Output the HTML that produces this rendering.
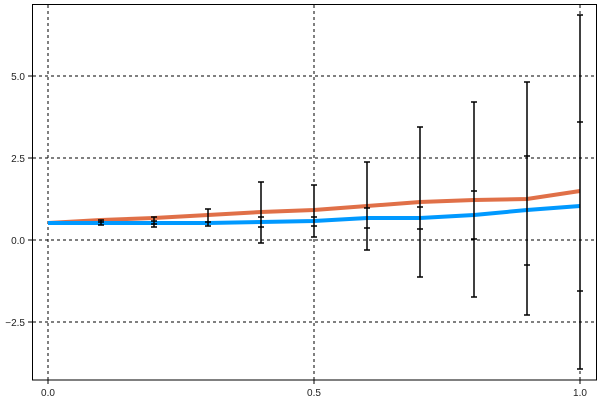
<!DOCTYPE html>
<html><head><style>html,body{margin:0;background:#fff;overflow:hidden;width:600px;height:400px}svg{display:block}text{font-family:"Liberation Sans",sans-serif;font-size:10px;fill:#222}</style></head><body>
<svg width="600" height="400">
<rect x="32.5" y="4.5" width="564" height="375.5" fill="none" stroke="#000"/>
<g stroke="#000" stroke-dasharray="3,3" stroke-width="1">
<line x1="48" y1="5" x2="48" y2="380"/><line x1="314" y1="5" x2="314" y2="380"/><line x1="580" y1="5" x2="580" y2="380"/>
<line x1="33" y1="76" x2="596" y2="76"/><line x1="33" y1="158" x2="596" y2="158"/><line x1="33" y1="240" x2="596" y2="240"/><line x1="33" y1="322" x2="596" y2="322"/>
</g>
<g stroke="#000"><line x1="48" y1="380" x2="48" y2="384"/><line x1="314" y1="380" x2="314" y2="384"/><line x1="580" y1="380" x2="580" y2="384"/>
<line x1="28" y1="76" x2="32" y2="76"/><line x1="28" y1="158" x2="32" y2="158"/><line x1="28" y1="240" x2="32" y2="240"/><line x1="28" y1="322" x2="32" y2="322"/></g>
<text x="48" y="396" text-anchor="middle">0.0</text><text x="314" y="396" text-anchor="middle">0.5</text><text x="580" y="396" text-anchor="middle">1.0</text>
<text x="25" y="80" text-anchor="end">5.0</text><text x="25" y="162" text-anchor="end">2.5</text><text x="25" y="244" text-anchor="end">0.0</text><text x="25" y="326" text-anchor="end">−2.5</text>
<polyline fill="none" stroke="#e07048" stroke-width="4" points="48,223 101,220 154,218 208,215 261,212 314,210 367,206 420,202 474,200 527,199 580,191"/>
<polyline fill="none" stroke="#0099ff" stroke-width="4" points="48,223 101,223 154,223 208,223 261,222 314,221 367,218 420,218 474,215 527,210 580,206"/>
<g stroke="#000" stroke-width="1.5">
<path d="M101,220V225M98,220H104M98,225H104M98,222H104"/>
<path d="M154,217V227M151,217H157M151,227H157M151,221H157M151,224H157"/>
<path d="M208,209V226M205,209H211M205,226H211M205,222H211"/>
<path d="M261,182V243M258,182H264M258,243H264M258,217H264M258,227H264"/>
<path d="M314,185V237M311,185H317M311,237H317M311,217H317M311,226H317"/>
<path d="M367,162V250M364,162H370M364,250H370M364,208H370M364,228H370"/>
<path d="M420,127V277M417,127H423M417,277H423M417,207H423M417,229H423"/>
<path d="M474,102V297M471,102H477M471,297H477M471,191H477M471,239H477"/>
<path d="M527,82V315M524,82H530M524,315H530M524,156H530M524,265H530"/>
<path d="M580,15V369M577,15H583M577,369H583M577,122H583M577,291H583"/>
</g>
</svg>
</body></html>
